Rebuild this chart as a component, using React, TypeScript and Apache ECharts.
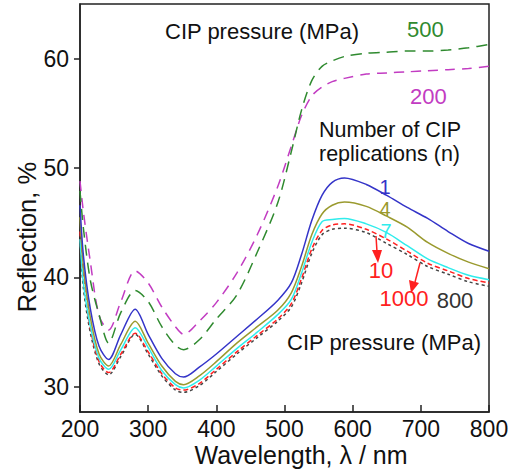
import React, { useEffect, useRef } from "react";
import * as echarts from "echarts";

const wavelengths = [200, 205, 215, 228, 242, 260, 281, 300, 320, 340, 352, 375, 400, 430, 460, 490, 510, 525, 540, 555, 570, 588, 620, 650, 680, 710, 740, 770, 800];

const n1 = [46.6, 42.0, 37.2, 33.7, 32.5, 34.8, 37.1, 34.8, 32.6, 31.2, 30.9, 31.8, 33.0, 34.6, 36.2, 37.9, 39.5, 42.1, 45.2, 47.5, 48.7, 49.1, 48.5, 47.5, 46.4, 45.4, 44.2, 43.1, 42.4];
const n4 = [45.5, 41.0, 36.4, 33.0, 31.9, 33.9, 36.0, 34.0, 31.9, 30.5, 30.2, 31.0, 32.3, 34.0, 35.5, 37.0, 38.6, 41.0, 43.9, 45.8, 46.6, 46.9, 46.5, 45.6, 44.6, 43.2, 42.2, 41.4, 40.8];
const n7 = [43.5, 39.5, 35.6, 32.6, 31.6, 33.4, 35.4, 33.6, 31.5, 30.2, 29.9, 30.6, 31.9, 33.5, 35.0, 36.6, 38.0, 40.4, 43.2, 45.1, 45.3, 45.4, 44.9, 44.1, 42.9, 41.7, 40.9, 40.2, 39.8];
const p1000 = [44.2, 40.0, 35.4, 32.3, 31.3, 33.0, 34.9, 33.2, 31.2, 29.9, 29.7, 30.3, 31.6, 33.2, 34.7, 36.2, 37.6, 39.9, 42.6, 44.3, 44.8, 44.9, 44.4, 43.5, 42.4, 41.3, 40.6, 39.9, 39.5];
const p800 = [43.0, 39.0, 35.0, 32.1, 31.1, 32.8, 34.8, 33.0, 31.0, 29.7, 29.5, 30.1, 31.4, 33.0, 34.5, 36.0, 37.3, 39.5, 42.2, 43.9, 44.4, 44.5, 44.1, 43.1, 42.1, 41.0, 40.3, 39.6, 39.2];
const p500 = [47.9, 44.5, 39.8, 36.6, 34.0, 36.8, 38.8, 37.8, 35.5, 33.8, 33.4, 34.3, 36.2, 38.4, 42.3, 46.8, 51.5, 55.3, 58.0, 59.3, 59.8, 60.2, 60.5, 60.6, 60.7, 60.7, 60.8, 61.0, 61.3];
const p200 = [48.8, 46.0, 41.5, 36.5, 35.2, 37.8, 40.6, 39.5, 37.3, 35.5, 34.8, 36.0, 37.7, 40.4, 43.9, 48.3, 52.0, 54.8, 56.6, 57.4, 57.9, 58.2, 58.6, 58.7, 58.8, 58.9, 59.0, 59.1, 59.3];

const yTicks = [30, 40, 50, 60];

const FONT = "'Liberation Sans', Arial, sans-serif";

function pairs(vals: number[]) {
  return wavelengths.map((w, i) => [w, vals[i]]);
}

function line(name: string, vals: number[], color: string, type: any, width = 1.5) {
  return {
    name,
    type: "line",
    data: pairs(vals),
    showSymbol: false,
    smooth: 0.3,
    lineStyle: { color, width, type },
    itemStyle: { color },
  };
}

export default function App() {
  const ref = useRef<HTMLDivElement>(null);
  useEffect(() => {
    const chart = echarts.init(ref.current!, null, { renderer: "svg" });
    const txt = (text: string, x: number, y: number, color: string, size = 22, align = "left") => ({
      type: "text",
      x,
      y,
      style: { text, fill: color, fontSize: size, fontFamily: FONT, textAlign: align, textVerticalAlign: "middle" },
    });
    chart.setOption({
      animation: false,
      backgroundColor: "#ffffff",
      grid: { left: 80, right: 25, top: 4, bottom: 62, show: true, borderColor: "#222", borderWidth: 1.5 },
      xAxis: {
        type: "value",
        min: 200,
        max: 800,
        interval: 100,
        axisLine: { lineStyle: { color: "#222", width: 1.5 } },
        axisTick: { inside: true, length: 7, lineStyle: { color: "#222", width: 1.5 } },
        axisLabel: { fontSize: 23, color: "#111", fontFamily: FONT, margin: 5 },
        splitLine: { show: false },
      },
      yAxis: {
        type: "value",
        min: 27.7,
        max: 65,
        axisLine: { lineStyle: { color: "#222", width: 1.5 } },
        axisTick: { inside: false, length: 6, customValues: yTicks, lineStyle: { color: "#222", width: 1.5 } },
        axisLabel: { fontSize: 23, color: "#111", fontFamily: FONT, margin: 11, customValues: yTicks },
        splitLine: { show: false },
      },
      series: [
        line("800 MPa", p800, "#444444", [3, 3]),
        line("1000 MPa", p1000, "#ff2020", [5, 3]),
        line("n = 7", n7, "#30ecec"),
        line("n = 4", n4, "#9a9a2e"),
        line("n = 1", n1, "#3434c8"),
        line("200 MPa", p200, "#c23cc2", [10, 7]),
        line("500 MPa", p500, "#2f8a2f", [11, 7]),
      ],
      graphic: [
        txt("Wavelength, λ / nm", 301, 455, "#111", 25, "center"),
        {
          type: "text",
          x: 27,
          y: 237,
          rotation: Math.PI / 2,
          style: { text: "Reflection, %", fill: "#111", fontSize: 25.5, fontFamily: FONT, textAlign: "center", textVerticalAlign: "middle" },
        },
        txt("CIP pressure (MPa)", 165, 31, "#111"),
        txt("500", 407, 29, "#2f8a2f"),
        txt("200", 410, 96, "#c23cc2"),
        txt("Number of CIP", 319, 130, "#111", 21.5),
        txt("replications (n)", 319, 154, "#111", 21.5),
        txt("1", 385, 187, "#3434c8", 20, "center"),
        txt("4", 385, 209, "#9a9a2e", 20, "center"),
        txt("7", 386, 231, "#30ecec", 20, "center"),
        txt("10", 381, 270, "#ff2020", 22, "center"),
        txt("1000", 404, 298, "#ff2020", 22, "center"),
        txt("800", 455, 300, "#333333", 22, "center"),
        txt("CIP pressure (MPa)", 287, 342, "#111"),
        { type: "line", shape: { x1: 376, y1: 236, x2: 377, y2: 252 }, style: { stroke: "#ff2020", lineWidth: 1.5 } },
        { type: "polygon", shape: { points: [[372, 250], [382, 250], [378, 263]] }, style: { fill: "#ff2020" } },
        { type: "line", shape: { x1: 420, y1: 263, x2: 415, y2: 282 }, style: { stroke: "#ff2020", lineWidth: 1.5 } },
        { type: "polygon", shape: { points: [[409, 280], [419, 283], [411, 293]] }, style: { fill: "#ff2020" } },
      ],
    });
    return () => chart.dispose();
  }, []);
  return <div ref={ref} style={{ position: "fixed", left: 0, top: 0, width: 514, height: 474, background: "#fff" }} />;
}
